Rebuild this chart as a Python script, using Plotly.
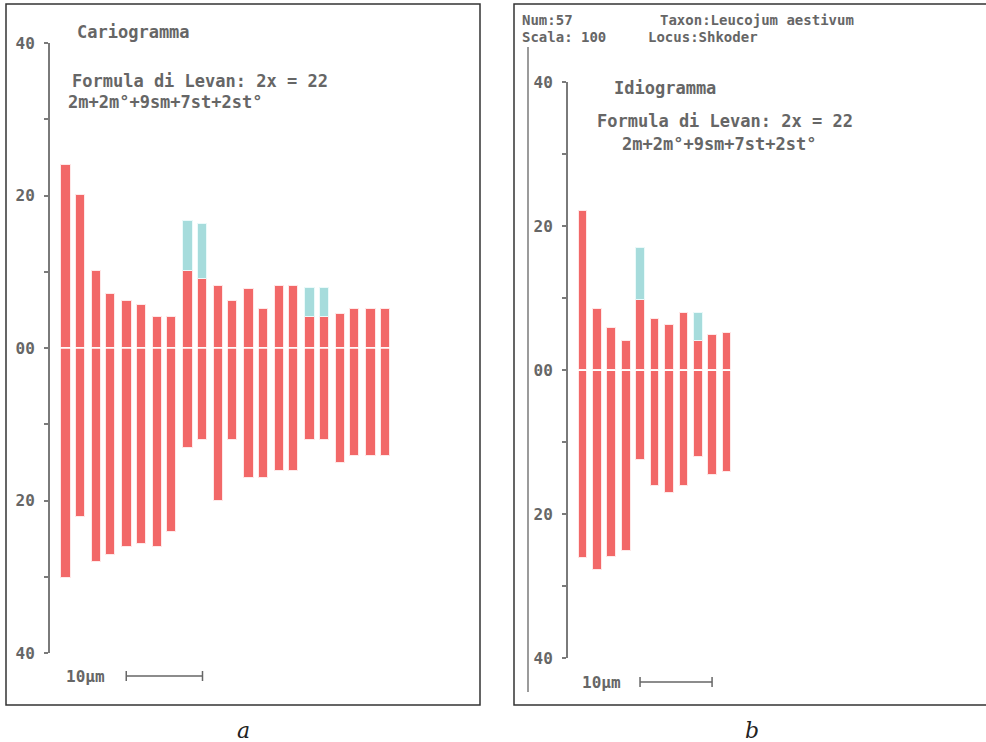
import plotly.graph_objects as go

W, H = 986, 742

# ---------------- data (µm) ----------------
# Panel a: Cariogramma (22 chromosomes, 11 pairs)
a_short = [24.0, 20.1, 10.1, 7.1, 6.1, 5.7, 4.1, 4.1, 10.1, 9.1, 8.1, 6.1,
           7.7, 5.1, 8.1, 8.1, 4.1, 4.1, 4.5, 5.1, 5.1, 5.1]
a_long = [30.1, 22.1, 28.1, 27.1, 26.1, 25.7, 26.1, 24.1, 13.1, 12.1, 20.1, 12.1,
          17.1, 17.1, 16.1, 16.1, 12.1, 12.1, 15.1, 14.1, 14.1, 14.1]
a_sat = [0, 0, 0, 0, 0, 0, 0, 0, 6.6, 7.2, 0, 0,
         0, 0, 0, 0, 3.8, 3.8, 0, 0, 0, 0]

# Panel b: Idiogramma (11 chromosomes)
b_short = [22.1, 8.5, 5.9, 4.1, 9.7, 7.1, 6.3, 8.0, 4.1, 4.9, 5.1]
b_long = [26.1, 27.8, 25.9, 25.1, 12.5, 16.1, 17.1, 16.1, 12.1, 14.5, 14.2]
b_sat = [0, 0, 0, 0, 7.2, 0, 0, 0, 3.8, 0, 0]

tick_vals = [-40, -30, -20, -10, 0, 10, 20, 30, 40]
tick_text = ["40", "", "20", "", "00", "", "20", "", "40"]

RED = "#f26868"
CYAN = "#a6dcdc"
OUTLINE = "rgba(255,235,235,0.95)"
TXT = "#666666"
MONO = "DejaVu Sans Mono"

# x positions
a_x = [2.1 + 4 * (i // 2) + 1.85 * (i % 2) for i in range(len(a_short))]
b_x = [2.08 + 2 * i for i in range(len(b_short))]
BW = 1.2


def px(x):
    return x / W


def py(y):
    return 1 - y / H


fig = go.Figure()


def add_bars(xs, short, long_, sat, xa, ya):
    fig.add_trace(go.Bar(x=xs, y=short, base=[0] * len(xs), width=BW,
                         marker=dict(color=RED, line=dict(color=OUTLINE, width=1)),
                         xaxis=xa, yaxis=ya, showlegend=False, hoverinfo="skip"))
    fig.add_trace(go.Bar(x=xs, y=[-v for v in long_], base=[0] * len(xs), width=BW,
                         marker=dict(color=RED, line=dict(color=OUTLINE, width=1)),
                         xaxis=xa, yaxis=ya, showlegend=False, hoverinfo="skip"))
    sx = [x for x, s in zip(xs, sat) if s > 0]
    sy = [s for s in sat if s > 0]
    sb = [b for b, s in zip(short, sat) if s > 0]
    fig.add_trace(go.Bar(x=sx, y=sy, base=sb, width=BW,
                         marker=dict(color=CYAN, line=dict(color="rgba(235,250,250,0.95)", width=1)),
                         xaxis=xa, yaxis=ya, showlegend=False, hoverinfo="skip"))


add_bars(a_x, a_short, a_long, a_sat, "x", "y")
add_bars(b_x, b_short, b_long, b_sat, "x2", "y2")

# axes geometry (pixel based)
a_ppu = (653 - 43) / 80.0
b_ppu = (658.3 - 82) / 80.0
a_left, a_right = 50, 480
b_left, b_right = 568, 986

yaxis_common = dict(
    range=[-40, 40], showline=True, linecolor="#7a7a7a", linewidth=2,
    ticks="outside", ticklen=4, tickwidth=2, tickcolor="#7a7a7a",
    tickvals=tick_vals, ticktext=tick_text, showgrid=False, zeroline=False,
    tickfont=dict(family=MONO, size=16, color=TXT, weight="bold"),
    ticklabelstandoff=6, fixedrange=True, automargin=False,
)

fig.update_layout(
    width=W, height=H, autosize=False,
    margin=dict(l=0, r=0, t=0, b=0, pad=0, autoexpand=False),
    paper_bgcolor="white", plot_bgcolor="rgba(0,0,0,0)",
    barmode="overlay", bargap=0,
    xaxis=dict(domain=[px(a_left), px(a_right)],
               range=[0, (a_right - a_left) / a_ppu], visible=False, fixedrange=True),
    yaxis=dict(domain=[py(653), py(43)], anchor="x", **yaxis_common),
    xaxis2=dict(domain=[px(b_left), px(b_right)],
                range=[0, (b_right - b_left) / b_ppu], visible=False, fixedrange=True),
    yaxis2=dict(domain=[py(658.3), py(82)], anchor="x2", **yaxis_common),
)

shapes = []
# zero lines across bars
shapes.append(dict(type="line", xref="x", yref="y", x0=a_x[0] - BW / 2 - 0.3, x1=a_x[-1] + BW / 2 + 0.3,
                   y0=0, y1=0, line=dict(color="white", width=1.5), layer="above"))
shapes.append(dict(type="line", xref="x2", yref="y2", x0=b_x[0] - BW / 2 - 0.3, x1=b_x[-1] + BW / 2 + 0.3,
                   y0=0, y1=0, line=dict(color="white", width=1.5), layer="above"))

# frames
FR = dict(color="#333333", width=1.5)
shapes.append(dict(type="rect", xref="paper", yref="paper", x0=px(6), x1=px(480),
                   y0=py(705), y1=py(4), line=FR, layer="below"))
shapes.append(dict(type="rect", xref="paper", yref="paper", x0=px(514), x1=px(995),
                   y0=py(705), y1=py(4), line=FR, layer="below"))
# extra vertical line in panel b
shapes.append(dict(type="line", xref="paper", yref="paper", x0=px(528), x1=px(528),
                   y0=py(692), y1=py(47), line=dict(color="#7a7a7a", width=1.5)))

# scale bars (10 µm)
SB = dict(color="#666666", width=1.5)
for xr, yb in (("x", 676), ("x2", 682)):
    shapes.append(dict(type="line", xref=xr, yref="paper", x0=10, x1=20, y0=py(yb), y1=py(yb), line=SB))
    for xv in (10, 20):
        shapes.append(dict(type="line", xref=xr, yref="paper", x0=xv, x1=xv,
                           y0=py(yb - 5), y1=py(yb + 5), line=SB))
fig.update_layout(shapes=shapes)

ann = []


def text(x, y, s, size=16):
    ann.append(dict(x=px(x), y=py(y), xref="paper", yref="paper", text=s, showarrow=False,
                    xanchor="left", yanchor="middle",
                    font=dict(family=MONO, size=size, color=TXT, weight="bold")))


text(75, 32, "Cariogramma", 17)
text(70, 81, "Formula di Levan: 2x = 22", 17)
text(66, 102, "2m+2m°+9sm+7st+2st°", 17)
text(64, 676, "10μm", 16)

text(520, 20, "Num:57", 14)
text(658, 20, "Taxon:Leucojum aestivum", 14)
text(520, 37, "Scala: 100", 14)
text(646, 37, "Locus:Shkoder", 14)
text(612, 88, "Idiogramma", 17)
text(595, 121, "Formula di Levan: 2x = 22", 17)
text(620, 144, "2m+2m°+9sm+7st+2st°", 17)
text(580, 682, "10μm", 16)

for x, s in ((243, "a"), (752, "b")):
    ann.append(dict(x=px(x), y=py(730), xref="paper", yref="paper", text=s, showarrow=False,
                    xanchor="center", yanchor="middle",
                    font=dict(family="DejaVu Serif", size=22, color="#222222", style="italic")))

fig.update_layout(annotations=ann)

fig.write_html("out.html", config={"displayModeBar": False},
               post_script="document.body.style.margin='0px';document.body.style.padding='0px';")
